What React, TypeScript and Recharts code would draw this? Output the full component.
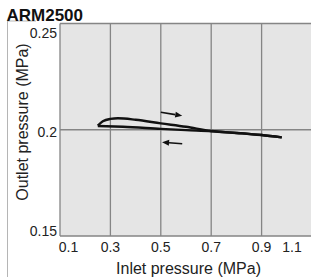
import { LineChart, Line, XAxis, YAxis, CartesianGrid, ReferenceLine } from 'recharts';

const xTicks = [0.1, 0.3, 0.5, 0.7, 0.9, 1.1];
const yTicks = [0.15, 0.2, 0.25];

// rising inlet pressure (upper branch)
const upX = [0.25, 0.27, 0.3, 0.33, 0.4, 0.5, 0.6, 0.7, 0.8, 0.9, 0.98];
const upY = [0.2019, 0.204, 0.2051, 0.2054, 0.2047, 0.203, 0.2014, 0.1994, 0.1985, 0.1975, 0.1964];

// falling inlet pressure (lower branch)
const downX = [0.25, 0.35, 0.5, 0.6, 0.7, 0.8, 0.9, 0.98];
const downY = [0.2018, 0.2014, 0.2004, 0.1998, 0.1993, 0.1985, 0.1975, 0.1964];

// direction arrows [x1, y1, x2, y2], head at the second point
const arrowRight = [0.5, 0.2082, 0.585, 0.2066];
const arrowLeft = [0.585, 0.1934, 0.505, 0.1941];

const upData = upX.map((x, i) => ({ x, y: upY[i] }));
const downData = downX.map((x, i) => ({ x, y: downY[i] }));

const font = '"Liberation Sans", Arial, sans-serif';

const xTickShift: Record<string, number> = { '0.1': 8.5, '1.1': -10 };
const yTickShift: Record<string, number> = { '0.25': 9.5, '0.2': 2, '0.15': -5 };

function XTick(props: any) {
  const { x, y, payload } = props;
  const v = String(payload.value);
  return (
    <text x={x + (xTickShift[v] || 0)} y={y} dy="0.71em" textAnchor="middle" fontSize={14} fill="#222" fontFamily={font}>
      {v}
    </text>
  );
}

function YTick(props: any) {
  const { y, payload } = props;
  const v = String(payload.value);
  return (
    <text x={57} y={y + (yTickShift[v] || 0)} dy="0.355em" textAnchor="end" fontSize={14} fill="#222" fontFamily={font}>
      {v}
    </text>
  );
}

function Arrow(props: any) {
  const { x1, y1, x2, y2 } = props;
  const a = Math.atan2(y2 - y1, x2 - x1);
  const len = 7;
  const w = 3;
  const bx = x2 - len * Math.cos(a);
  const by = y2 - len * Math.sin(a);
  const px = -Math.sin(a) * w;
  const py = Math.cos(a) * w;
  return (
    <g>
      <line x1={x1} y1={y1} x2={bx} y2={by} stroke="#111" strokeWidth={1.6} />
      <polygon points={`${x2},${y2} ${bx + px},${by + py} ${bx - px},${by - py}`} fill="#111" />
    </g>
  );
}

export default function App() {
  return (
    <div style={{ position: 'absolute', left: 0, top: 0, width: 311, height: 277, overflow: 'hidden', background: '#fff' }}>
      <LineChart width={312} height={277} margin={{ top: 23.5, right: 0, bottom: 0, left: 0 }}>
        <CartesianGrid fill="#e5e5e5" stroke="#858585" strokeWidth={1.3} />
        <XAxis
          type="number"
          dataKey="x"
          domain={[0.1, 1.1]}
          ticks={xTicks}
          axisLine={false}
          tickLine={false}
          tickMargin={0}
          height={41}
          tick={<XTick />}
          allowDataOverflow
        />
        <YAxis
          type="number"
          domain={[0.15, 0.25]}
          ticks={yTicks}
          axisLine={false}
          tickLine={false}
          width={60}
          tick={<YTick />}
          allowDataOverflow
        />
        <Line data={upData} dataKey="y" type="monotone" stroke="#111" strokeWidth={2.4} dot={false} isAnimationActive={false} />
        <Line data={downData} dataKey="y" type="monotone" stroke="#111" strokeWidth={2.4} dot={false} isAnimationActive={false} />
        <ReferenceLine
          segment={[{ x: arrowRight[0], y: arrowRight[1] }, { x: arrowRight[2], y: arrowRight[3] }]}
          shape={(p: any) => <Arrow {...p} />}
        />
        <ReferenceLine
          segment={[{ x: arrowLeft[0], y: arrowLeft[1] }, { x: arrowLeft[2], y: arrowLeft[3] }]}
          shape={(p: any) => <Arrow {...p} />}
        />
      </LineChart>
      <svg width={311} height={277} style={{ position: 'absolute', left: 0, top: 0, pointerEvents: 'none' }}>
        <line x1={7.5} y1={21} x2={7.5} y2={277} stroke="#b5b5b5" strokeWidth={1} />
        <line x1={7} y1={21} x2={36} y2={21} stroke="#b5b5b5" strokeWidth={1} />
        <text x={6.5} y={20.5} fontSize={17} fontWeight="bold" fill="#111" fontFamily={font}>
          ARM2500
        </text>
        <text x={188.5} y={273.5} fontSize={16} textAnchor="middle" fill="#222" fontFamily={font}>
          Inlet pressure (MPa)
        </text>
        <text x={28} y={122} fontSize={16} textAnchor="middle" fill="#222" fontFamily={font} transform="rotate(-90 28 122)">
          Outlet pressure (MPa)
        </text>
      </svg>
    </div>
  );
}
